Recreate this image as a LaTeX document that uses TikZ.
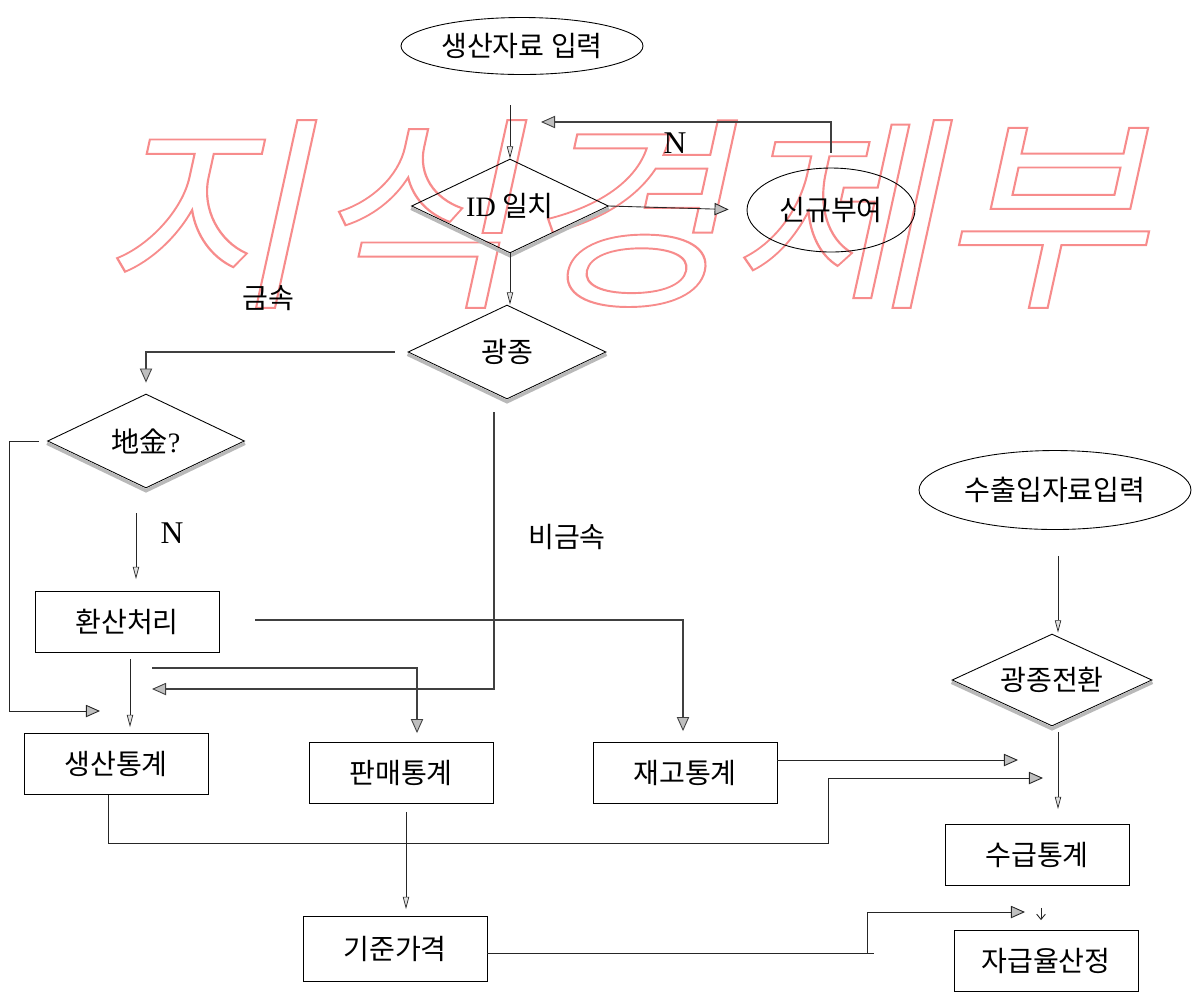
\documentclass[tikz,border=0pt]{standalone}
\usepackage{fontspec}
\setmainfont{Liberation Serif}
\newfontfamily\kr{Noto Sans CJK KR}
\usepackage{tikz}
\usetikzlibrary{shapes,arrows,arrows.meta,positioning,calc}
\newcommand{\txt}{\kr\fontsize{16}{19}\selectfont}
\newcommand{\outlined}[1]{\special{pdf:literal direct 1 Tr 1.1 w 0.97 0.55 0.55 RG}#1\special{pdf:literal direct 0 Tr 0 G}}
\tikzset{
block/.style = {draw, rectangle, line width=0.5pt, minimum height=1.22cm, minimum width=3.68cm, font=\txt},
term/.style = {draw, ellipse, line width=0.5pt, inner sep=0pt, font=\txt},
decision/.style = {draw, diamond, aspect=2, inner sep=0pt, line width=0.5pt, minimum width=3.94cm, minimum height=1.88cm, font=\txt},
rim/.style = {draw=gray!55, line width=2pt},
lbl/.style = {font=\txt},
nlbl/.style = {font=\fontsize{18}{20}\selectfont},
line/.style = {line width=0.5pt, draw=black!85},
fat/.style = {line width=1.3pt, draw=black!75},
tip/.style = {-{Triangle[length=8pt,width=7pt,fill=gray!50,line width=0.5pt]}},
thintip/.style = {-{Triangle[length=7pt,width=3.6pt,fill=gray!25,line width=0.4pt]}}
}

\begin{document}
\begin{tikzpicture}[x=0.02cm, y=-0.02cm]
\useasboundingbox (0,0) rectangle (1192,992);

% watermark
\begin{scope}[shift={(640,214)}, xslant=0.22, xscale=1.1]
\node [transform shape, font=\kr\fontsize{118}{118}\selectfont] (mark) at (0,0) {\outlined{지식경제부}};
\end{scope}

\node [term, minimum width=4.84cm, minimum height=1.14cm] (prodin) at (522,46) {생산자료 입력};
\node [decision] (id) at (510,206) {{\rmfamily ID}~일치};
\node [term, minimum width=3.36cm, minimum height=1.68cm] (new) at (831,210) {신규부여};
\node [decision, minimum width=3.96cm] (kind) at (507,352) {광종};
\node [decision] (gold) at (146,441) {地金{\rmfamily ?}};
\node [block] (conv) at (127,622) {환산처리};
\node [block] (prod) at (116,764) {생산통계};
\node [block] (sales) at (401,773) {판매통계};
\node [block] (stock) at (685,773) {재고통계};
\node [block, minimum height=1.3cm] (base) at (395,949) {기준가격};
\node [term, minimum width=5.44cm, minimum height=1.58cm] (tradein) at (1055,490) {수출입자료입력};
\node [decision, minimum width=4cm, minimum height=1.84cm] (mineral) at (1052,680) {광종전환};
\node [block] (supply) at (1037,855) {수급통계};
\node [block] (self) at (1046,961) {자급율산정};

\foreach \d in {id,kind,gold,mineral}
  \draw [rim] ([yshift=-1.3pt]\d.west) -- ([yshift=-1.3pt]\d.south) -- ([yshift=-1.3pt]\d.east);

\node [lbl] (metal) at (268,298) {금속};
\node [lbl] (nonmetal) at (567,537) {비금속};
\node [nlbl] (nnew) at (675,143) {N};
\node [nlbl] (ngold) at (172,533) {N};

\coordinate (idtop) at (510,105);
\coordinate (backend) at (541,122);
\coordinate (metalend) at (152,689);
\coordinate (prodleft) at (100,711);
\coordinate (stockend) at (1018,760);
\coordinate (prodend) at (1043,778);
\coordinate (selfend) at (1025,912);

\draw [line, thintip] (idtop) -- (id.south |- id.north);
\draw [line, tip, shorten >=0.36cm] (id.east) -- (new.west);
\draw [fat, tip] ([yshift=0.3cm]new.north) |- (backend);
\draw [line, thintip] (id.south) -- (id.south |- kind.north);
\draw [fat, tip] ([xshift=-0.26cm]kind.west) -| ([yshift=0.22cm]gold.north);
\draw [line, tip] ([xshift=-0.16cm]gold.west) -- ++(-30,0) |- (prodleft);
\draw [line, thintip] ($(gold.south)+(-10,25)$) -- ($(gold.south |- conv.north)+(-10,-12)$);
\draw [line, thintip] ($(conv.south)+(3,6)$) -- ($(prod.north)+(14,-6)$);
\draw [fat, tip] ($(kind.south)+(-13,13)$) |- (metalend);
\draw [fat, tip] ($(conv.south)+(25,15)$) -| ($(sales.north)+(16,-9)$);
\draw [fat, tip] ($(conv.east)+(36,-2)$) -| ($(stock.north)+(-2,-11)$);
\draw [line, tip] ($(stock.east)+(0,-13)$) -- (stockend);
\draw [line, tip] ($(prod.south)+(-8,0)$) |- ($(stock.south)+(143,39)$) |- (prodend);
\draw [line, thintip] ($(sales.south)+(5,8)$) -- ($(base.north)+(11,-7)$);
\draw [line, thintip] ($(tradein.south)+(3,26)$) -- ($(mineral.north)+(6,-1)$);
\draw [line, thintip] ($(mineral.south)+(6,6)$) -- ($(supply.north)+(21,-15)$);
\draw [line, -{Straight Barb[length=3pt,width=5pt]}] ($(supply.south)+(4,22)$) -- ($(self.north)+(-5,-10)$);
\draw [line, tip] ($(base.east)+(0,4)$) -- ++(387,0) ++(-7,0) |- (selfend);
\end{tikzpicture}
\end{document}
